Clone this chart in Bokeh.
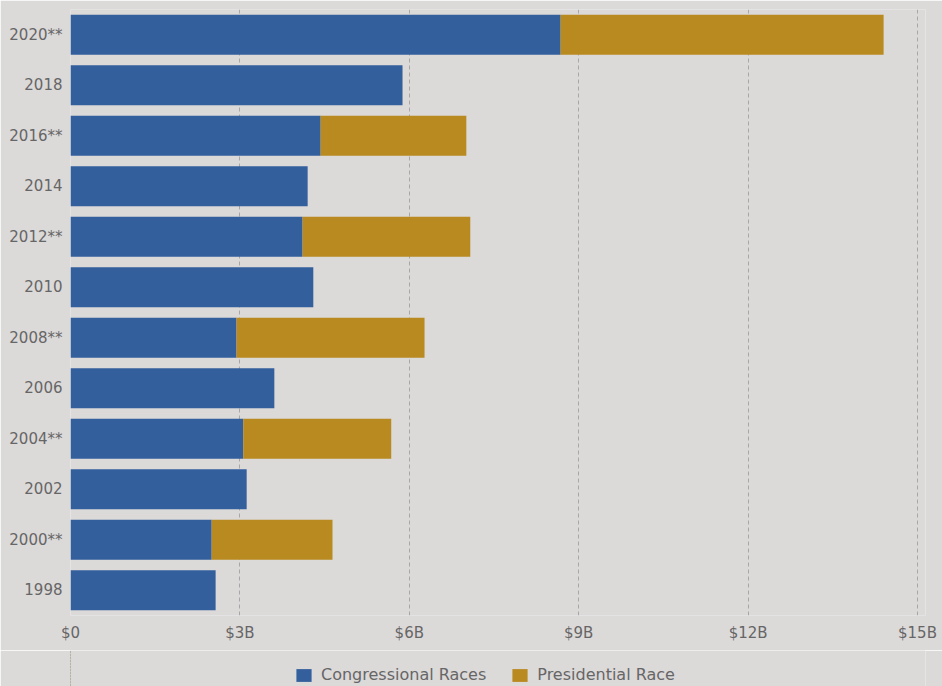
from bokeh.plotting import figure
from bokeh.layouts import column
from bokeh.models import ColumnDataSource, FixedTicker, Legend, LegendItem, Range1d
from bokeh.embed import file_html
from bokeh.resources import INLINE

years = ["1998", "2000**", "2002", "2004**", "2006", "2008**", "2010", "2012**", "2014", "2016**", "2018", "2020**"]
congressional = [2.57, 2.50, 3.12, 3.06, 3.61, 2.94, 4.30, 4.11, 4.20, 4.43, 5.88, 8.68]
presidential = [0, 2.14, 0, 2.62, 0, 3.33, 0, 2.97, 0, 2.58, 0, 5.72]
series_names = ["Congressional Races", "Presidential Race"]
x_ticks = [0, 3, 6, 9, 12, 15]
x_tick_labels = ["$0", "$3B", "$6B", "$9B", "$12B", "$15B"]

BG = "#dcd9d9"
BLUE = "#335f9c"
GOLD = "#b98a1f"
TXT = "#666666"

src = ColumnDataSource(dict(years=years, congressional=congressional, presidential=presidential))

p = figure(width=942, height=650, y_range=years, x_range=Range1d(0, 15.142),
           output_backend="svg", toolbar_location=None,
           min_border_left=70, min_border_right=17, min_border_top=9, min_border_bottom=35)
p.background_fill_color = BG
p.border_fill_color = BG
p.outline_line_color = None

r = p.hbar_stack(["congressional", "presidential"], y="years", height=0.79, color=[BLUE, GOLD],
                 line_color=None, source=src)

p.xaxis.ticker = FixedTicker(ticks=x_ticks)
p.xaxis.major_label_overrides = {t: l for t, l in zip(x_ticks, x_tick_labels)}
for ax in (p.xaxis, p.yaxis):
    ax.axis_line_color = None
    ax.major_tick_line_color = None
    ax.minor_tick_line_color = None
    ax.major_label_text_color = TXT
    ax.major_label_text_font = "DejaVu Sans"
    ax.major_label_text_font_size = "15px"
p.xaxis.major_label_standoff = 2
p.yaxis.major_label_standoff = 2

p.ygrid.grid_line_color = None
p.xgrid.ticker = FixedTicker(ticks=[3, 6, 9, 12, 15])
p.xgrid.grid_line_color = "#a8a6a6"
p.xgrid.grid_line_dash = "4 3"
p.xgrid.grid_line_width = 1

# legend strip below the chart; its bars lie outside the strip's x range, so only the swatches show
lg = figure(width=942, height=36, x_range=Range1d(100, 101), y_range=years,
            output_backend="svg", toolbar_location=None,
            min_border_left=70, min_border_right=17, min_border_top=0, min_border_bottom=0)
lg.axis.visible = False
lg.grid.visible = False
lg.background_fill_color = BG
lg.border_fill_color = BG
lg.outline_line_color = None
lr = lg.hbar_stack(["congressional", "presidential"], y="years", height=0.79, color=[BLUE, GOLD],
                   line_color=None, source=src)

legend = Legend(items=[LegendItem(label=series_names[0], renderers=[lr[0]], index=0),
                       LegendItem(label=series_names[1], renderers=[lr[1]], index=0)],
                orientation="horizontal", location=(224, 2))
legend.background_fill_alpha = 0
legend.border_line_color = None
legend.label_text_color = TXT
legend.label_text_font = "DejaVu Sans"
legend.label_text_font_size = "16px"
legend.glyph_width = 19
legend.glyph_height = 16
legend.label_standoff = 8
legend.spacing = 24
legend.margin = 0
legend.padding = 2
lg.add_layout(legend, "center")

layout = column(p, lg, spacing=0)
open("out.html", "w").write(file_html(layout, INLINE))
